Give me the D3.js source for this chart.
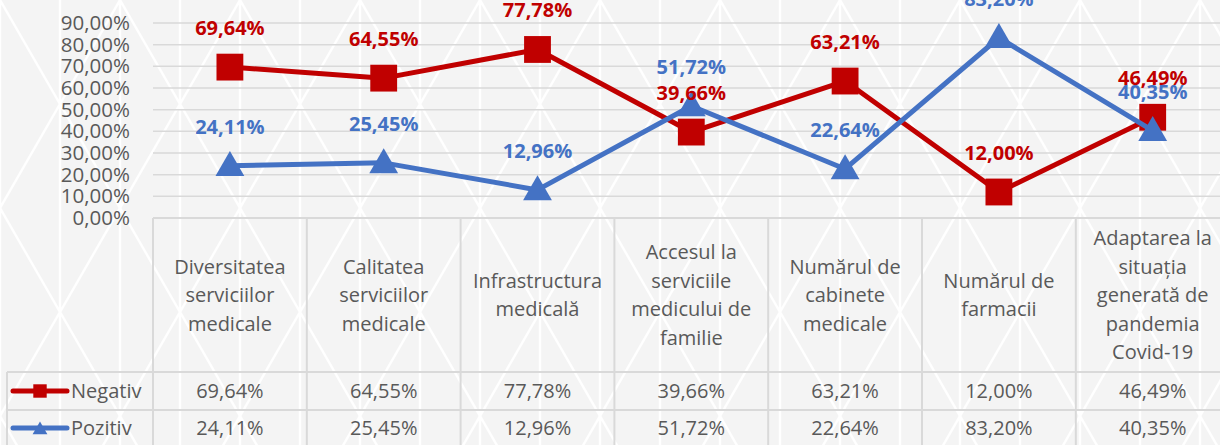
<!DOCTYPE html>
<html>
<head>
<meta charset="utf-8">
<script src="https://cdn.jsdelivr.net/npm/d3@7"></script>
<style>
  html, body { margin: 0; padding: 0; background: #ffffff; }
  svg { display: block; }
  text { font-family: "Open Sans", Lato, sans-serif; }
</style>
</head>
<body>
<svg id="chart" width="1220" height="445"></svg>
<script>
// Categories (table header cells; lines split for wrapping)
const categories = [
  ["Diversitatea", "serviciilor", "medicale"],
  ["Calitatea", "serviciilor", "medicale"],
  ["Infrastructura", "medicală"],
  ["Accesul la", "serviciile", "medicului de", "familie"],
  ["Numărul de", "cabinete", "medicale"],
  ["Numărul de", "farmacii"],
  ["Adaptarea la", "situația", "generată de", "pandemia", "Covid-19"]
];
const negativ = [69.64, 64.55, 77.78, 39.66, 63.21, 12.00, 46.49];
const pozitiv = [24.11, 25.45, 12.96, 51.72, 22.64, 83.20, 40.35];
const yTicks = [0, 10, 20, 30, 40, 50, 60, 70, 80, 90];

const series = [
  { name: "Negativ", values: negativ, color: "#C00000", symbol: d3.symbolSquare },
  { name: "Pozitiv", values: pozitiv, color: "#4472C4", symbol: d3.symbolTriangle }
];

const W = 1220, H = 445;
const FONT = 20;
const svg = d3.select("#chart");

// faint triangular lattice backdrop
const defs = svg.append("defs");
const pat = defs.append("pattern")
  .attr("id", "lattice").attr("patternUnits", "userSpaceOnUse")
  .attr("width", 120).attr("height", 208);
pat.append("rect").attr("width", 120).attr("height", 208).attr("fill", "#f4f4f4");
pat.append("path").attr("d", "M0,0 L60,104 L120,0 M0,208 L60,104 L120,208 M0,0 V208 M120,0 V208 M60,0 V208")
  .attr("stroke", "#ffffff").attr("stroke-width", 2.5).attr("fill", "none");
svg.append("rect").attr("width", W).attr("height", H).attr("fill", "url(#lattice)");

const fmt = v => d3.format(".2f")(v).replace(".", ",") + "%";

const plotLeft = 153, colW = 153.8;
const x = d3.scaleBand()
  .domain(d3.range(categories.length))
  .range([plotLeft, plotLeft + colW * categories.length])
  .padding(0);
const cx = i => x(i) + x.bandwidth() / 2;

const y = d3.scaleLinear().domain([0, 90]).range([218, 23]);

// gridlines
svg.append("g").selectAll("line").data(yTicks.slice(1)).join("line")
  .attr("x1", plotLeft).attr("x2", W)
  .attr("y1", d => y(d)).attr("y2", d => y(d))
  .attr("stroke", "#d9d9d9").attr("stroke-width", 1.5);

// y axis labels
const yAxis = d3.axisLeft(y).tickValues(yTicks).tickFormat(fmt).tickSize(0).tickPadding(0);
const gy = svg.append("g").attr("transform", "translate(130,0)").call(yAxis);
gy.select(".domain").remove();
gy.selectAll("text").attr("fill", "#595959").style("font-size", "20.5px")
  .style("font-family", "'Open Sans', Lato, sans-serif");

// data table
const rowTop = y(0), headerBottom = 372, row1Bottom = 410, row2Bottom = 448;
const grid = svg.append("g").attr("stroke", "#d9d9d9").attr("stroke-width", 2).attr("fill", "none");
grid.append("line").attr("x1", plotLeft).attr("x2", W).attr("y1", rowTop).attr("y2", rowTop);
grid.append("line").attr("x1", 7).attr("x2", W).attr("y1", headerBottom).attr("y2", headerBottom);
grid.append("line").attr("x1", 7).attr("x2", W).attr("y1", row1Bottom).attr("y2", row1Bottom);
grid.append("line").attr("x1", 7).attr("x2", 7).attr("y1", headerBottom).attr("y2", H);
grid.selectAll("line.v").data(d3.range(categories.length + 1)).join("line").attr("class", "v")
  .attr("x1", i => plotLeft + i * colW).attr("x2", i => plotLeft + i * colW)
  .attr("y1", rowTop).attr("y2", H);

// header cells
const headG = svg.append("g");
categories.forEach((lines, i) => {
  const mid = (rowTop + headerBottom) / 2;
  const lh = 28.5;
  const t = headG.append("text").attr("text-anchor", "middle")
    .attr("fill", "#595959").style("font-size", FONT + "px");
  lines.forEach((ln, k) => {
    t.append("tspan").attr("x", cx(i))
      .attr("y", mid + (k - (lines.length - 1) / 2) * lh)
      .attr("dy", "0.35em").text(ln);
  });
});

// value rows + legend keys
const rowMids = [(headerBottom + row1Bottom) / 2, (row1Bottom + row2Bottom) / 2 - 1];
series.forEach((s, r) => {
  const ym = rowMids[r];
  svg.append("g").selectAll("text").data(s.values).join("text")
    .attr("x", (d, i) => cx(i)).attr("y", ym).attr("dy", "0.35em")
    .attr("text-anchor", "middle").attr("fill", "#595959").style("font-size", FONT + "px")
    .text(fmt);
  const key = svg.append("g");
  key.append("line").attr("x1", 13).attr("x2", 67).attr("y1", ym).attr("y2", ym)
    .attr("stroke", s.color).attr("stroke-width", 5).attr("stroke-linecap", "round");
  key.append("path").attr("transform", `translate(40,${ym + (r === 1 ? 2 : 0)})`)
    .attr("d", d3.symbol(s.symbol, r === 1 ? 95 : 180)()).attr("fill", s.color);
  key.append("text").attr("x", 71).attr("y", ym).attr("dy", "0.35em")
    .attr("fill", "#595959").style("font-size", FONT + "px").text(s.name);
});

// lines and markers
const line = d3.line().x((d, i) => cx(i)).y(d => y(d));
const markG = svg.append("g");
series.forEach((s, r) => {
  const g = markG.append("g");
  g.append("path").datum(s.values).attr("d", line)
    .attr("fill", "none").attr("stroke", s.color).attr("stroke-width", 5)
    .attr("stroke-linejoin", "round");
  g.selectAll("path.m").data(s.values).join("path").attr("class", "m")
    .attr("transform", (d, i) => `translate(${cx(i)},${y(d) + (r === 1 ? 2 : 0)})`)
    .attr("d", d3.symbol(s.symbol, r === 1 ? 360 : 720)())
    .attr("fill", s.color);
});

// data labels drawn above everything
series.forEach(s => {
  svg.append("g").selectAll("text").data(s.values).join("text")
    .attr("x", (d, i) => cx(i)).attr("y", d => y(d) - 39).attr("dy", "0.35em")
    .attr("text-anchor", "middle").attr("fill", s.color)
    .style("font-size", FONT + "px").style("font-weight", "bold")
    .text(fmt);
});
</script>
</body>
</html>
